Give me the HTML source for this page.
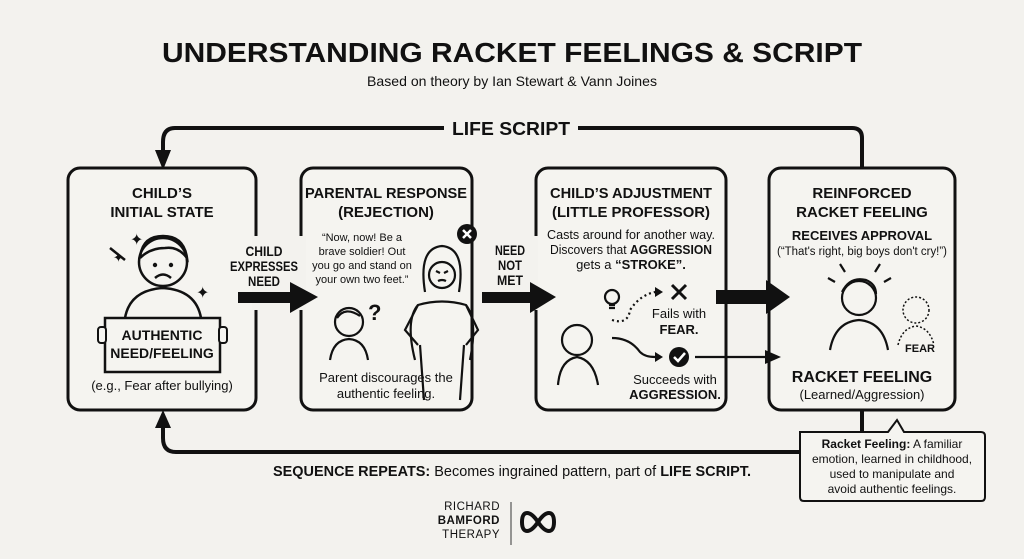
<!DOCTYPE html>
<html><head><meta charset="utf-8"><style>
html,body{margin:0;padding:0;background:#f3f2ee;}
svg{display:block}
text{font-family:"Liberation Sans",sans-serif;fill:#111}
.b{font-weight:bold}
</style></head><body>
<svg width="1024" height="559" viewBox="0 0 1024 559" xmlns="http://www.w3.org/2000/svg">
<rect width="1024" height="559" fill="#f3f2ee"/>
<!-- title -->
<text x="512" y="62" text-anchor="middle" class="b" font-size="28" textLength="700" lengthAdjust="spacingAndGlyphs">UNDERSTANDING RACKET FEELINGS &amp; SCRIPT</text>
<text x="512" y="86" text-anchor="middle" font-size="14" textLength="290" lengthAdjust="spacingAndGlyphs">Based on theory by Ian Stewart &amp; Vann Joines</text>

<!-- top loop -->
<path d="M862,168 L862,138 Q862,128 852,128 L578,128 M444,128 L175,128 Q163,128 163,142 L163,155" fill="none" stroke="#111" stroke-width="4"/>
<path d="M155,150 L171,150 L163,170 z" fill="#111"/>
<text x="511" y="135" text-anchor="middle" class="b" font-size="18" textLength="118" lengthAdjust="spacingAndGlyphs">LIFE SCRIPT</text>

<!-- bottom loop -->
<path d="M862,410 L862,452 M800,452 L176,452 Q163,452 163,438 L163,425" fill="none" stroke="#111" stroke-width="4"/>
<path d="M155,428 L171,428 L163,410 z" fill="#111"/>
<text x="273" y="476" font-size="14.5" textLength="478" lengthAdjust="spacingAndGlyphs"><tspan class="b">SEQUENCE REPEATS:</tspan> Becomes ingrained pattern, part of <tspan class="b">LIFE SCRIPT.</tspan></text>

<!-- boxes -->
<g fill="#f5f4f0" stroke="#111" stroke-width="3">
<rect x="68" y="168" width="188" height="242" rx="12"/>
<rect x="301" y="168" width="171" height="242" rx="12"/>
<rect x="536" y="168" width="190" height="242" rx="12"/>
<rect x="769" y="168" width="186" height="242" rx="12"/>
</g>

<!-- box1 -->
<text x="162" y="198" text-anchor="middle" class="b" font-size="15">CHILD’S</text>
<text x="162" y="217" text-anchor="middle" class="b" font-size="15">INITIAL STATE</text>
<g fill="none" stroke="#111" stroke-width="2.5">
<circle cx="163" cy="262" r="24" fill="#f5f4f0"/>
<path d="M140,258 Q142,236 163,236 Q184,236 187,258 Q178,246 165,248 Q150,248 140,258"/>
<path d="M125,318 Q130,290 163,288 Q196,290 201,318"/>
<path d="M155,278 Q163,271 171,278"/>
<path d="M110,248 L125,260"/>
</g>
<circle cx="155" cy="265" r="2.2" fill="#111"/><circle cx="171" cy="265" r="2.2" fill="#111"/>
<text x="130" y="245" font-size="16">✦</text><text x="113" y="262" font-size="13">✦</text><text x="196" y="298" font-size="16">✦</text>
<rect x="105" y="318" width="115" height="54" fill="#f5f4f0" stroke="#111" stroke-width="2.5"/>
<rect x="98" y="327" width="8" height="16" rx="3" fill="#f5f4f0" stroke="#111" stroke-width="2"/>
<rect x="219" y="327" width="8" height="16" rx="3" fill="#f5f4f0" stroke="#111" stroke-width="2"/>
<text x="162" y="340" text-anchor="middle" class="b" font-size="14">AUTHENTIC</text>
<text x="162" y="358" text-anchor="middle" class="b" font-size="14">NEED/FEELING</text>
<text x="162" y="390" text-anchor="middle" font-size="13">(e.g., Fear after bullying)</text>

<!-- arrow 1 -->
<rect x="252" y="236" width="54" height="74" fill="#f3f2ee"/>
<text x="264" y="256" text-anchor="middle" class="b" font-size="14" textLength="37" lengthAdjust="spacingAndGlyphs">CHILD</text>
<text x="264" y="271" text-anchor="middle" class="b" font-size="14" textLength="68" lengthAdjust="spacingAndGlyphs">EXPRESSES</text>
<text x="264" y="286" text-anchor="middle" class="b" font-size="14" textLength="32" lengthAdjust="spacingAndGlyphs">NEED</text>
<path d="M238,292 L290,292 L290,282 L318,297 L290,313 L290,303 L238,303 z" fill="#111"/>

<!-- box2 -->
<text x="386" y="198" text-anchor="middle" class="b" font-size="15" textLength="162" lengthAdjust="spacingAndGlyphs">PARENTAL RESPONSE</text>
<text x="386" y="217" text-anchor="middle" class="b" font-size="15">(REJECTION)</text>
<g font-size="11" text-anchor="middle">
<text x="362" y="241">“Now, now! Be a</text>
<text x="362" y="255">brave soldier! Out</text>
<text x="362" y="269">you go and stand on</text>
<text x="362" y="283">your own two feet.”</text>
</g>
<circle cx="467" cy="234" r="10" fill="#111"/>
<path d="M463,230 L471,238 M471,230 L463,238" stroke="#fff" stroke-width="2.5"/>
<g fill="none" stroke="#111" stroke-width="2.2">
<circle cx="349" cy="322" r="14"/>
<path d="M330,360 Q333,340 349,339 Q365,340 368,360"/>
<path d="M337,318 Q345,306 360,316"/>
<path d="M425,292 Q418,248 442,246 Q466,248 459,292"/>
<circle cx="442" cy="275" r="13" fill="#f5f4f0"/>
<path d="M436,271 L440,273 M448,271 L444,273 M438,281 Q442,279 446,281"/>
<path d="M415,360 Q405,320 418,305 Q442,298 466,305 Q478,320 470,360"/>
<path d="M418,305 L405,330 L418,345 M466,305 L478,330 L466,345"/>
<path d="M420,345 L424,400 M464,345 L460,400"/>
</g>
<text x="368" y="320" class="b" font-size="22">?</text>
<text x="386" y="382" text-anchor="middle" font-size="13">Parent discourages the</text>
<text x="386" y="398" text-anchor="middle" font-size="13">authentic feeling.</text>

<!-- arrow 2 -->
<rect x="478" y="236" width="60" height="74" fill="#f3f2ee"/>
<text x="510" y="255" text-anchor="middle" class="b" font-size="14" textLength="30" lengthAdjust="spacingAndGlyphs">NEED</text>
<text x="510" y="270" text-anchor="middle" class="b" font-size="14" textLength="24" lengthAdjust="spacingAndGlyphs">NOT</text>
<text x="510" y="285" text-anchor="middle" class="b" font-size="14" textLength="26" lengthAdjust="spacingAndGlyphs">MET</text>
<path d="M482,292 L530,292 L530,282 L556,297 L530,313 L530,303 L482,303 z" fill="#111"/>

<!-- box3 -->
<text x="631" y="198" text-anchor="middle" class="b" font-size="15" textLength="162" lengthAdjust="spacingAndGlyphs">CHILD’S ADJUSTMENT</text>
<text x="631" y="217" text-anchor="middle" class="b" font-size="15" textLength="158" lengthAdjust="spacingAndGlyphs">(LITTLE PROFESSOR)</text>
<g font-size="13" text-anchor="middle">
<text x="631" y="239" textLength="168" lengthAdjust="spacingAndGlyphs">Casts around for another way.</text>
<text x="631" y="254" textLength="162" lengthAdjust="spacingAndGlyphs">Discovers that <tspan class="b">AGGRESSION</tspan></text>
<text x="631" y="269">gets a <tspan class="b">“STROKE”.</tspan></text>
</g>
<g fill="none" stroke="#111" stroke-width="2.2">
<circle cx="612" cy="297" r="7"/>
<path d="M609,305 L615,305 M609,308 L615,308"/>
<circle cx="577" cy="340" r="15"/>
<path d="M558,385 Q560,360 577,357 Q594,360 598,385"/>
<path d="M612,320 Q628,325 630,310 Q640,295 655,292" stroke-dasharray="2,3"/>
<path d="M612,338 Q630,338 640,352 Q645,357 655,357"/>
<path d="M695,357 L770,357"/>
</g>
<path d="M655,287 L663,292 L655,297 z" fill="#111"/>
<path d="M655,352 L663,357 L655,362 z" fill="#111"/>
<path d="M765,350 L781,357 L765,364 z" fill="#111"/>
<path d="M672,285 L686,299 M686,285 L672,299" stroke="#111" stroke-width="3"/>
<text x="679" y="318" text-anchor="middle" font-size="13">Fails with</text>
<text x="679" y="334" text-anchor="middle" class="b" font-size="13">FEAR.</text>
<circle cx="679" cy="357" r="10" fill="#111"/>
<path d="M674,357 L678,361 L685,353" stroke="#fff" stroke-width="2.5" fill="none"/>
<text x="675" y="384" text-anchor="middle" font-size="13">Succeeds with</text>
<text x="675" y="399" text-anchor="middle" class="b" font-size="13">AGGRESSION.</text>

<!-- arrow 3 -->
<path d="M716,290 L766,290 L766,280 L790,297 L766,314 L766,304 L716,304 z" fill="#111"/>

<!-- box4 -->
<text x="862" y="198" text-anchor="middle" class="b" font-size="15">REINFORCED</text>
<text x="862" y="217" text-anchor="middle" class="b" font-size="15">RACKET FEELING</text>
<text x="862" y="240" text-anchor="middle" class="b" font-size="13">RECEIVES APPROVAL</text>
<text x="862" y="255" text-anchor="middle" font-size="11.5" textLength="170" lengthAdjust="spacingAndGlyphs">(“That's right, big boys don't cry!”)</text>
<g fill="none" stroke="#111" stroke-width="2.2">
<circle cx="859" cy="298" r="17"/>
<path d="M842,292 Q850,276 866,280 Q876,284 876,294"/>
<path d="M830,350 Q835,322 859,320 Q883,322 888,350"/>
<path d="M845,272 L840,264 M875,272 L880,264 M835,282 L828,278 M884,282 L891,278"/>
<g stroke-dasharray="2,2" stroke-width="1.5"><circle cx="916" cy="310" r="13"/><path d="M898,345 Q902,328 916,326 Q930,328 934,345"/></g>
</g>
<text x="920" y="352" text-anchor="middle" class="b" font-size="11">FEAR</text>
<text x="862" y="382" text-anchor="middle" class="b" font-size="16">RACKET FEELING</text>
<text x="862" y="399" text-anchor="middle" font-size="13">(Learned/Aggression)</text>

<!-- callout -->
<path d="M800,432 L888,432 L897,420 L904,432 L981,432 Q985,432 985,436 L985,497 Q985,501 981,501 L804,501 Q800,501 800,497 Z" fill="#f5f4f0" stroke="#111" stroke-width="2"/>
<g font-size="12" text-anchor="middle">
<text x="892" y="448"><tspan class="b">Racket Feeling:</tspan> A familiar</text>
<text x="892" y="463">emotion, learned in childhood,</text>
<text x="892" y="478">used to manipulate and</text>
<text x="892" y="493">avoid authentic feelings.</text>
</g>

<!-- logo -->
<g text-anchor="end" font-size="11.5">
<text x="500" y="510" letter-spacing="0.5" fill="#333">RICHARD</text>
<text x="500" y="524" class="b" letter-spacing="0.5">BAMFORD</text>
<text x="500" y="538" letter-spacing="0.5" fill="#333">THERAPY</text>
</g>
<line x1="511" y1="502" x2="511" y2="545" stroke="#555" stroke-width="1.2"/>
<path d="M538,522 C530,510 522,510 522,522 C522,534 530,534 538,522 C546,510 554,510 554,522 C554,534 546,534 538,522 Z" fill="none" stroke="#111" stroke-width="4"/>
</svg>
</body></html>
